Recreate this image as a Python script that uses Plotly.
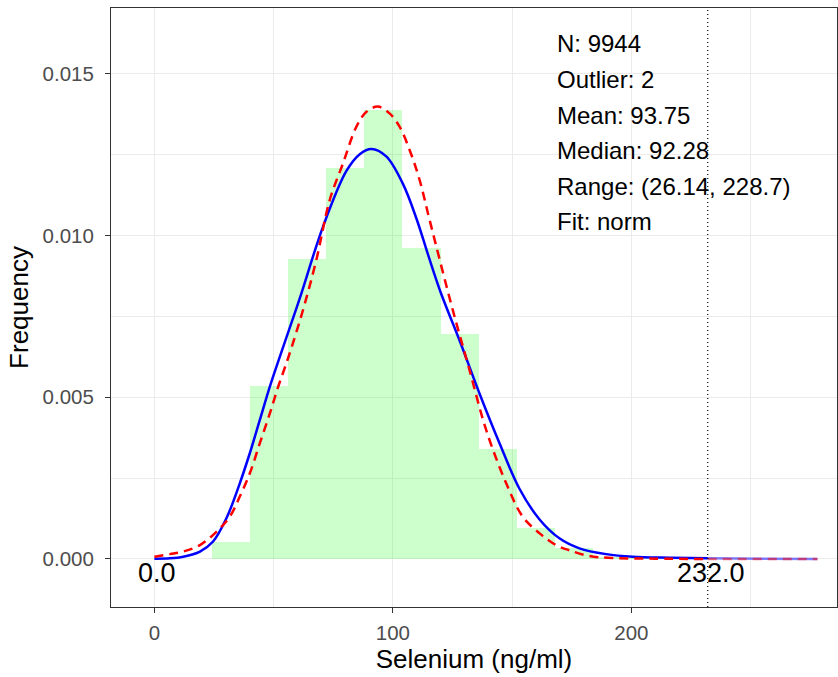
import plotly.graph_objects as go

# ---- data ----
bin_edges = [24, 40, 56, 72, 88, 104, 120, 136, 152, 168, 184, 200, 216, 232]
bin_density = [0.00052, 0.00536, 0.00928, 0.01208, 0.01389, 0.00963, 0.00695,
               0.00340, 0.00095, 0.00034, 0.00007, 0.00002, 0.00001]

fit_x = [0, 6.5, 12.1, 19.1, 24.6, 30.2, 35.8, 40, 44.2, 48.4, 52.6, 60.9, 70.7,
         80.5, 86.1, 91, 97.2, 104.2, 110, 115, 120, 128, 136.3, 144.7, 153,
         161.4, 169.8, 178.2, 189.4, 200.5, 217, 232]
fit_y = [0.00001, 0.00002, 0.00007, 0.00023, 0.00054, 0.00126, 0.00234, 0.00327,
         0.00430, 0.00533, 0.00626, 0.00805, 0.01028, 0.01200, 0.01252, 0.01268,
         0.01245, 0.01160, 0.01050, 0.00935, 0.00825, 0.00675, 0.00512, 0.00358,
         0.00218, 0.00123, 0.00064, 0.00033, 0.00015, 0.00007, 0.00004, 0.00002]
fit_tail_x = [232, 278]
fit_tail_y = [0.00002, 0.0]

dens_x = [0, 6.5, 12.1, 19.1, 26, 31.6, 35.8, 40, 44.2, 48.4, 52, 56, 62.3,
          67.9, 73.5, 79.1, 84.7, 88.9, 93.7, 98.6, 102.8, 107, 111.2, 115.4,
          125.1, 132.1, 139.1, 147.5, 154.4, 161.4, 168.4, 174, 182.4, 192, 210, 232]
dens_y = [0.00007, 0.00015, 0.00023, 0.00043, 0.00084, 0.00131, 0.00193, 0.00265,
          0.00358, 0.00450, 0.00535, 0.00620, 0.00770, 0.00925, 0.01110, 0.01224,
          0.01337, 0.01383, 0.01399, 0.01378, 0.01337, 0.01265, 0.01172, 0.01048,
          0.00770, 0.00585, 0.00399, 0.00234, 0.00131, 0.00080, 0.00043, 0.00027,
          0.00009, 0.00003, 0.00001, 0.0]
dens_tail_x = [232, 278]
dens_tail_y = [0.0, 0.0]

cut_lower = 0.0
cut_upper = 232.0
stat_labels = ["N: 9944", "Outlier: 2", "Mean: 93.75", "Median: 92.28",
               "Range: (26.14, 228.7)", "Fit: norm"]

x_ticks = [0, 100, 200]
y_ticks = [0.0, 0.005, 0.010, 0.015]
y_ticklabels = ["0.000", "0.005", "0.010", "0.015"]

FONT = "Liberation Sans, Arial, sans-serif"

bin_centers = [(a + b) / 2 for a, b in zip(bin_edges[:-1], bin_edges[1:])]
bin_widths = [b - a for a, b in zip(bin_edges[:-1], bin_edges[1:])]

fig = go.Figure()
fig.add_trace(go.Bar(x=bin_centers, y=bin_density, width=bin_widths,
                     marker=dict(color="rgba(0,255,0,0.2)", line=dict(width=0)),
                     showlegend=False, hoverinfo="skip"))
fig.add_trace(go.Scatter(x=fit_tail_x, y=fit_tail_y, mode="lines",
                         line=dict(color="rgba(0,0,255,0.5)", width=2.5),
                         showlegend=False))
fig.add_trace(go.Scatter(x=dens_tail_x, y=dens_tail_y, mode="lines",
                         line=dict(color="rgba(255,0,0,0.5)", width=2.5, dash="9px,6px"),
                         showlegend=False))
fig.add_trace(go.Scatter(x=fit_x, y=fit_y, mode="lines",
                         line=dict(color="#0000FF", width=2.5, shape="spline", smoothing=1.0),
                         showlegend=False))
fig.add_trace(go.Scatter(x=dens_x, y=dens_y, mode="lines",
                         line=dict(color="#FF0000", width=2.5, dash="9px,6px",
                                   shape="spline", smoothing=1.0),
                         showlegend=False))

fig.add_shape(type="line", x0=cut_upper, x1=cut_upper, y0=0, y1=1, yref="paper",
              line=dict(color="black", width=1.2, dash="1px,3px"))

annots = []
for i, t in enumerate(stat_labels):
    annots.append(dict(x=168, y=0.01593, xref="x", yref="y", text=t, showarrow=False,
                       xanchor="left", yanchor="middle", yshift=-35.6 * i,
                       font=dict(family=FONT, size=24, color="black")))
for v in [cut_lower, cut_upper]:
    annots.append(dict(x=v, y=-0.00042, xref="x", yref="y", text=f"{v:.1f}",
                       showarrow=False, xanchor="center", yanchor="middle",
                       xshift=3, font=dict(family=FONT, size=27, color="black")))

fig.update_layout(
    width=838, height=677,
    margin=dict(l=111, r=1, t=8, b=70, autoexpand=False),
    paper_bgcolor="white", plot_bgcolor="white",
    bargap=0, font=dict(family=FONT),
    annotations=annots,
    xaxis=dict(range=[-18.2, 286.2], tickvals=x_ticks, ticks="outside", ticklen=5,
               tickcolor="#333333", tickwidth=1, automargin=False, ticklabelstandoff=2,
               tickfont=dict(family=FONT, size=20.5, color="#4D4D4D"),
               showgrid=True, gridcolor="#EBEBEB", gridwidth=1.1, zeroline=False,
               showline=True, mirror=True, linecolor="#333333", linewidth=1,
               minor=dict(tickvals=[50, 150, 250], showgrid=True, gridcolor="#EBEBEB",
                          gridwidth=0.55, ticks=""),
               title=dict(text="Selenium (ng/ml)", standoff=6,
                          font=dict(family=FONT, size=26, color="black"))),
    yaxis=dict(range=[-0.001485, 0.01704], tickvals=y_ticks, ticktext=y_ticklabels,
               ticks="outside", ticklen=5, tickcolor="#333333", tickwidth=1,
               automargin=False, ticklabelstandoff=7,
               tickfont=dict(family=FONT, size=20.5, color="#4D4D4D"),
               showgrid=True, gridcolor="#EBEBEB", gridwidth=1.1, zeroline=False,
               showline=True, mirror=True, linecolor="#333333", linewidth=1,
               minor=dict(tickvals=[0.0025, 0.0075, 0.0125], showgrid=True,
                          gridcolor="#EBEBEB", gridwidth=0.55, ticks=""),
               title=dict(text="Frequency", standoff=6,
                          font=dict(family=FONT, size=26, color="black"))),
)

fig.write_html("out.html", config={"displayModeBar": False},
               post_script="document.body.style.margin='0';document.body.style.overflow='hidden';")
